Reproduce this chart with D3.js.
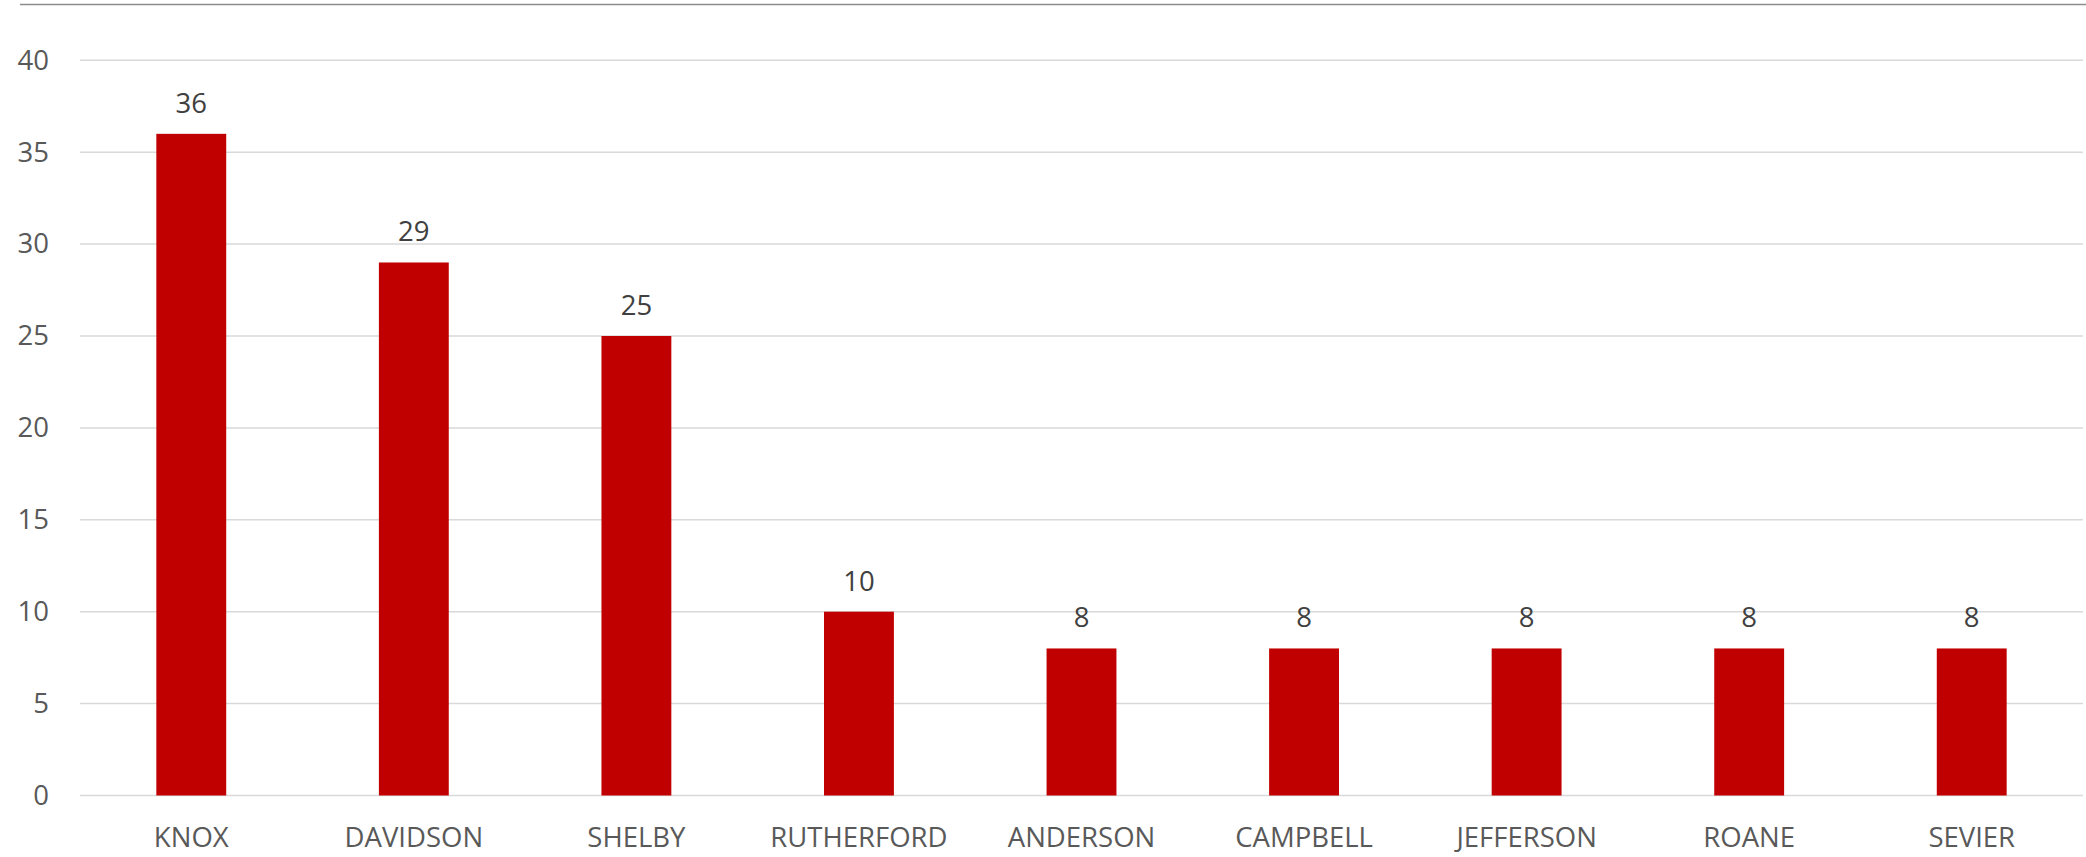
<!DOCTYPE html>
<html><head><meta charset="utf-8">
<script src="https://cdn.jsdelivr.net/npm/d3@7"></script>
<style>html,body{margin:0;padding:0;background:#fff;}svg{display:block;}</style>
</head><body>
<svg id="chart" width="2086" height="857"></svg>
<script>
const categories = ["KNOX","DAVIDSON","SHELBY","RUTHERFORD","ANDERSON","CAMPBELL","JEFFERSON","ROANE","SEVIER"];
const values = [36, 29, 25, 10, 8, 8, 8, 8, 8];
const yTicks = [0, 5, 10, 15, 20, 25, 30, 35, 40];

(function () {
const W = 2086, H = 857;
const mLeft = 80, mRight = 2083, mTop = 60.3, mBottom = 795.5;
const font = "'Open Sans', sans-serif";
const svg = d3.select("#chart");

svg.append("line").attr("x1", 20).attr("x2", W).attr("y1", 4.5).attr("y2", 4.5)
  .attr("stroke", "#8c8c8c").attr("stroke-width", 1.5);

const x = d3.scaleBand().domain(categories).range([mLeft, mRight]).paddingInner(0.686).paddingOuter(0.343);
const y = d3.scaleLinear().domain([0, 40]).range([mBottom, mTop]);

const grid = svg.append("g");
grid.selectAll("line").data(yTicks).join("line")
  .attr("x1", mLeft).attr("x2", mRight)
  .attr("y1", d => y(d)).attr("y2", d => y(d))
  .attr("stroke", "#d9d9d9").attr("stroke-width", 1.5);

const yAxis = svg.append("g").attr("transform", `translate(${mLeft},0)`)
  .call(d3.axisLeft(y).tickValues(yTicks).tickSize(0).tickPadding(31));
yAxis.select(".domain").remove();
yAxis.selectAll("text").attr("font-family", font).attr("font-size", 27.5).attr("fill", "#595959");

svg.append("g").selectAll("rect").data(values).join("rect")
  .attr("x", (d, i) => x(categories[i]))
  .attr("width", x.bandwidth())
  .attr("y", d => y(d))
  .attr("height", d => y(0) - y(d))
  .attr("fill", "#c00000");

svg.append("g").selectAll("text").data(values).join("text")
  .attr("x", (d, i) => x(categories[i]) + x.bandwidth() / 2)
  .attr("y", d => y(d) - 21)
  .attr("text-anchor", "middle")
  .attr("font-family", font).attr("font-size", 27.5).attr("fill", "#404040")
  .text(d => d);

const xAxis = svg.append("g").attr("transform", `translate(0,${mBottom})`)
  .call(d3.axisBottom(x).tickSize(0).tickPadding(32));
xAxis.select(".domain").remove();
xAxis.selectAll("text").attr("font-family", font).attr("font-size", 27.5).attr("fill", "#595959");
})();
</script>
</body></html>
